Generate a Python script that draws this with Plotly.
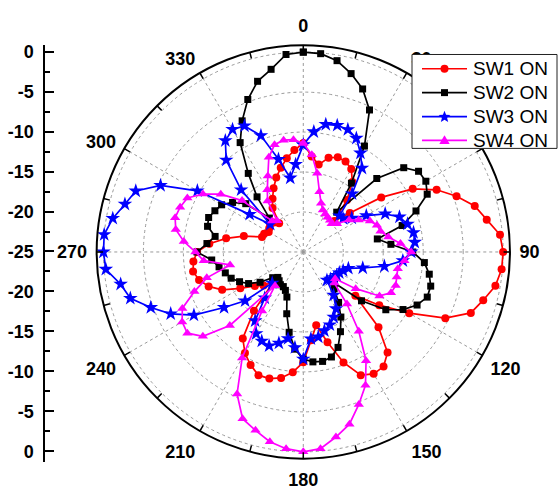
import math
import plotly.graph_objects as go

# Angles of the measurement (degrees), one sample every 5 degrees
angles = list(range(0, 360, 5))

# Normalised gain (dB) for each switch state
sw1_on = [-11.4, -13.0, -13.9, -12.8, -12.4, -12.5, -13.0, -14.3, -16.5, -19.5,
          -17.4, -13.1, -9.2, -6.6, -4.6, -2.8, -1.7, -0.3, 0.0, -0.1,
          -0.6, -1.7, -2.7, -5.4, -9.7, -13.4, -16.5, -11.7, -8.6, -7.5,
          -7.4, -8.0, -10.3, -13.3, -15.7, -13.9, -11.2, -9.9, -9.0, -8.6,
          -8.6, -9.4, -10.4, -11.8, -15.4, -19.7, -18.5, -17.6, -15.9, -13.8,
          -12.4, -11.5, -11.0, -11.2, -11.7, -13.2, -15.2, -17.3, -19.5, -19.6,
          -20.0, -19.8, -19.6, -19.8, -20.3, -18.3, -17.3, -16.2, -15.1, -14.1,
          -13.1, -12.2]

sw2_on = [0.0, -0.1, -0.7, -1.9, -3.3, -5.4, -9.7, -14.5, -18.5, -12.0,
          -8.6, -7.4, -7.3, -7.9, -10.0, -12.2, -15.6, -14.0, -11.3, -9.8,
          -9.0, -8.5, -8.5, -9.3, -10.6, -12.4, -15.5, -19.5, -19.0, -17.3,
          -15.6, -14.0, -12.3, -11.4, -11.1, -11.2, -11.6, -12.8, -14.8, -17.0,
          -19.0, -19.7, -20.0, -20.0, -20.3, -20.5, -20.0, -18.4, -17.1, -16.2,
          -15.4, -14.9, -14.3, -13.5, -11.7, -12.9, -13.8, -12.6, -12.4, -12.8,
          -13.2, -14.2, -15.6, -19.0, -16.0, -13.0, -9.2, -6.9, -4.7, -2.9,
          -1.8, -0.2]

sw3_on = [-11.6, -9.9, -8.8, -8.6, -8.7, -9.3, -10.7, -12.2, -15.5, -18.6,
          -18.5, -17.6, -15.9, -13.7, -12.2, -11.5, -11.0, -11.0, -11.5, -12.5,
          -14.7, -17.3, -19.0, -19.5, -19.8, -19.9, -20.0, -20.2, -20.4, -18.4,
          -16.8, -16.0, -15.3, -14.8, -14.2, -14.1, -11.6, -13.0, -14.0, -13.2,
          -12.5, -12.7, -13.2, -14.5, -17.5, -19.5, -15.5, -12.9, -9.2, -6.7,
          -4.7, -2.6, -1.8, -0.2, 0.0, 0.0, -0.8, -1.9, -2.7, -5.3,
          -9.7, -16.8, -19.6, -14.0, -10.0, -8.0, -7.3, -7.6, -9.5, -13.0,
          -15.6, -14.0]

sw4_on = [-11.4, -12.8, -15.0, -17.2, -18.5, -19.2, -19.5, -19.7, -19.8, -20.0,
          -19.5, -18.0, -17.0, -15.8, -15.2, -15.0, -14.2, -12.8, -11.5, -12.3,
          -13.0, -12.9, -12.7, -12.9, -14.0, -17.0, -19.8, -19.5, -16.5, -12.9,
          -9.3, -6.6, -4.7, -2.7, -1.5, -0.3, 0.0, -0.3, -0.9, -1.9,
          -2.8, -5.4, -9.7, -16.0, -19.5, -12.0, -8.6, -7.3, -7.5, -8.3,
          -10.5, -12.5, -15.7, -12.5, -11.5, -10.0, -8.8, -8.4, -8.6, -9.0,
          -10.5, -12.4, -15.0, -19.5, -19.9, -17.2, -16.0, -14.5, -12.4, -11.1,
          -10.8, -10.9]

series_names = ["SW1 ON", "SW2 ON", "SW3 ON", "SW4 ON"]
series_values = [sw1_on, sw2_on, sw3_on, sw4_on]
series_colors = ["#FF0000", "#000000", "#0000FF", "#FF00FF"]
series_symbols = ["circle", "square", "star", "triangle-up"]
series_sizes = [8, 7, 11, 9]

# Radial scale (dB): centre at -25, grid every 5 dB
r_min, r_max = -25.0, 0.85
radial_grid = [-20, -15, -10, -5, 0]

# Angular ticks every 15 degrees, labelled every 30 degrees
# (the 60 degree label sits behind the legend box)
angle_ticks = list(range(0, 360, 15))
angle_ticktext = [str(a) if (a % 30 == 0 and a != 60) else "" for a in angle_ticks]
spoke_angles = list(range(0, 360, 30))

# Vertical dB scale drawn at the left (mirrors the polar diameter)
scale_vals = [-25, -20, -15, -10, -5, 0, 5, 10, 15, 20, 25]
scale_text = [str(abs(v) - 25) for v in scale_vals]

FONT = "Liberation Sans, Arial, sans-serif"
W, H = 558, 491
cx, cy, R = 303.3, 251.0, 207.5


def px(x):
    return x / W


def py(y):
    return 1 - y / H


fig = go.Figure()

# Dotted angular grid spokes
spoke_r, spoke_t = [], []
for a in spoke_angles:
    spoke_r += [r_min, r_max, None]
    spoke_t += [a, a, None]
fig.add_trace(go.Scatterpolar(
    r=spoke_r, theta=spoke_t, mode="lines",
    line=dict(color="#999999", width=1, dash="dot"),
    hoverinfo="skip", showlegend=False))

for name, vals, col, sym, size in zip(series_names, series_values,
                                      series_colors, series_symbols, series_sizes):
    fig.add_trace(go.Scatterpolar(
        r=vals + vals[:1], theta=angles + angles[:1],
        mode="lines+markers", name=name, showlegend=False,
        line=dict(color=col, width=1.7),
        marker=dict(symbol=sym, size=size, color=col, line=dict(width=0))))

# Inward tick marks on the outer circle
tick_r, tick_t = [], []
for a in angle_ticks:
    tick_r += [r_max - 0.8, r_max, None]
    tick_t += [a, a, None]
fig.add_trace(go.Scatterpolar(
    r=tick_r, theta=tick_t, mode="lines",
    line=dict(color="black", width=1.5),
    hoverinfo="skip", showlegend=False))

# Placeholder cartesian trace so the left scale is drawn
fig.add_trace(go.Scatter(x=[None], y=[None], showlegend=False, hoverinfo="skip"))

# ---- legend box drawn with shapes and annotations ----
leg_x0, leg_x1, leg_y0, leg_y1 = 412, 557, 52.7, 147
row_y = [67, 91, 115, 139]
line_x0, line_x1 = 422, 467
text_x = 472

shapes = [dict(type="rect", xref="paper", yref="paper", layer="above",
               x0=px(leg_x0), x1=px(leg_x1), y0=py(leg_y1), y1=py(leg_y0),
               fillcolor="white", line=dict(color="#222222", width=1))]
annotations = []


def poly_path(pts):
    return "M " + " L ".join(f"{px(x):.5f},{py(y):.5f}" for x, y in pts) + " Z"


for name, col, sym, yy in zip(series_names, series_colors, series_symbols, row_y):
    shapes.append(dict(type="line", xref="paper", yref="paper", layer="above",
                       x0=px(line_x0), x1=px(line_x1), y0=py(yy), y1=py(yy),
                       line=dict(color=col, width=1.7)))
    mx = (line_x0 + line_x1) / 2
    if sym == "circle":
        r = 4.0
        shapes.append(dict(type="circle", xref="paper", yref="paper", layer="above",
                           x0=px(mx - r), x1=px(mx + r), y0=py(yy + r), y1=py(yy - r),
                           fillcolor=col, line=dict(width=0)))
    elif sym == "square":
        r = 3.5
        shapes.append(dict(type="rect", xref="paper", yref="paper", layer="above",
                           x0=px(mx - r), x1=px(mx + r), y0=py(yy + r), y1=py(yy - r),
                           fillcolor=col, line=dict(width=0)))
    elif sym == "star":
        pts = []
        for k in range(10):
            rr = 6.2 if k % 2 == 0 else 2.7
            ang = math.radians(-90 + 36 * k)
            pts.append((mx + rr * math.cos(ang), yy + 0.5 + rr * math.sin(ang)))
        shapes.append(dict(type="path", xref="paper", yref="paper", layer="above",
                           path=poly_path(pts), fillcolor=col, line=dict(width=0)))
    else:
        pts = [(mx, yy - 5.2), (mx + 5.2, yy + 3.6), (mx - 5.2, yy + 3.6)]
        shapes.append(dict(type="path", xref="paper", yref="paper", layer="above",
                           path=poly_path(pts), fillcolor=col, line=dict(width=0)))
    annotations.append(dict(xref="paper", yref="paper", x=px(text_x), y=py(yy),
                            xanchor="left", yanchor="middle", showarrow=False,
                            text=name, borderpad=0,
                            font=dict(family=FONT, size=19, color="black")))

fig.update_layout(
    width=W, height=H,
    margin=dict(l=0, r=0, t=0, b=0),
    paper_bgcolor="white", plot_bgcolor="rgba(0,0,0,0)",
    showlegend=False,
    shapes=shapes, annotations=annotations,
    polar=dict(
        domain=dict(x=[px(cx - R), px(cx + R)], y=[py(cy + R), py(cy - R)]),
        bgcolor="white",
        radialaxis=dict(range=[r_min, r_max], tickvals=radial_grid,
                        showticklabels=False, ticks="", showline=False,
                        showgrid=True, gridcolor="#999999", gridwidth=1,
                        griddash="dot"),
        angularaxis=dict(rotation=90, direction="clockwise",
                         tickmode="array", tickvals=angle_ticks,
                         ticktext=angle_ticktext,
                         ticks="outside", ticklen=5, tickwidth=1,
                         tickcolor="rgba(0,0,0,0)",
                         showline=True, linecolor="black", linewidth=2,
                         showgrid=False,
                         tickfont=dict(family=FONT, size=18, color="black",
                                       weight="bold")),
    ),
    xaxis=dict(visible=False, range=[0, 1], domain=[0, 1]),
    yaxis=dict(anchor="free", position=44.3 / W,
               domain=[1 - 461.7 / H, 1 - 42.7 / H],
               range=[-26.32, 25.9],
               showgrid=False, zeroline=False,
               showline=True, linecolor="black", linewidth=2,
               tickmode="array", tickvals=scale_vals, ticktext=scale_text,
               ticks="inside", ticklen=9, tickwidth=2, tickcolor="black",
               minor=dict(ticks="inside", ticklen=5, tickwidth=1.5,
                          tickcolor="black", tick0=0, dtick=2.5),
               ticklabelstandoff=6,
               tickfont=dict(family=FONT, size=18, color="black",
                             weight="bold")),
)

fig.write_html("out.html")
